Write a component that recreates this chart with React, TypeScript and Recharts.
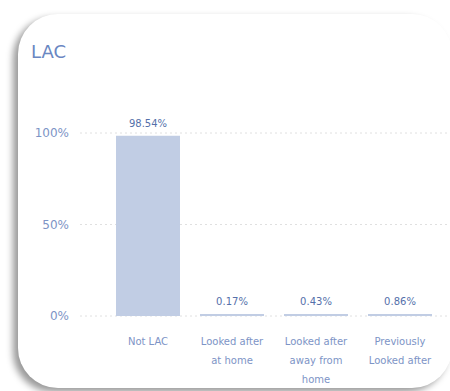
import React from 'react';
import { BarChart, Bar, XAxis, YAxis, CartesianGrid, LabelList } from 'recharts';

const categories = ['Not LAC', 'Looked after at home', 'Looked after away from home', 'Previously Looked after'];
const categoryLines = [['Not LAC'], ['Looked after', 'at home'], ['Looked after', 'away from', 'home'], ['Previously', 'Looked after']];
const lacShare = [98.54, 0.17, 0.43, 0.86];
const yTicks = [0, 50, 100];

const FONT = '"DejaVu Sans", sans-serif';

const data = categories.map((name, i) => ({ name, lines: categoryLines[i], value: lacShare[i] }));

const CategoryTick = (props: any) => {
  const { x, y, payload } = props;
  const idx = categories.indexOf(payload.value);
  const lines = idx >= 0 ? categoryLines[idx] : [payload.value];
  return (
    <text x={x} y={y} textAnchor="middle" fill="#7d94c6" fontSize={10} fontFamily={FONT}>
      {lines.map((line, i) => (
        <tspan key={i} x={x} dy={i === 0 ? 21 : 19}>
          {line}
        </tspan>
      ))}
    </text>
  );
};

export default function App() {
  return (
    <div style={{ position: 'absolute', left: 0, top: 0, width: 450, height: 391, overflow: 'hidden', background: '#fff' }}>
      <div
        style={{
          position: 'absolute',
          left: 18,
          top: 14,
          width: 434,
          height: 374,
          borderRadius: 40,
          background: '#fff',
          boxShadow: '-5px 4px 7px rgba(0,0,0,0.4)',
        }}
      />
      <div
        style={{
          position: 'absolute',
          left: 31,
          top: 40,
          fontFamily: FONT,
          fontSize: 18,
          color: '#6a87c2',
          lineHeight: '24px',
        }}
      >
        LAC
      </div>
      <div style={{ position: 'absolute', left: 0, top: 0 }}>
        <BarChart width={450} height={391} data={data} margin={{ top: 133, right: 0, bottom: 15, left: 0 }}>
          <CartesianGrid vertical={false} strokeDasharray="2 3" stroke="#e0e0e0" />
          <XAxis
            dataKey="name"
            height={60}
            axisLine={false}
            tickLine={false}
            interval={0}
            padding={{ left: 26, right: 8 }}
            tick={<CategoryTick />}
          />
          <YAxis
            width={80}
            domain={[0, 100]}
            ticks={yTicks}
            axisLine={false}
            tickLine={false}
            tickSize={0}
            tickMargin={11}
            tickFormatter={(v: number) => `${v}%`}
            tick={{ fill: '#7d94c6', fontSize: 12, fontFamily: FONT }}
          />
          <Bar dataKey="value" fill="#c1cde4" barSize={64} minPointSize={2} isAnimationActive={false}>
            <LabelList
              dataKey="value"
              position="top"
              offset={9}
              formatter={(v: any) => `${Number(v).toFixed(2)}%`}
              style={{ fill: '#5570aa', fontSize: 10, fontFamily: FONT }}
            />
          </Bar>
        </BarChart>
      </div>
    </div>
  );
}
